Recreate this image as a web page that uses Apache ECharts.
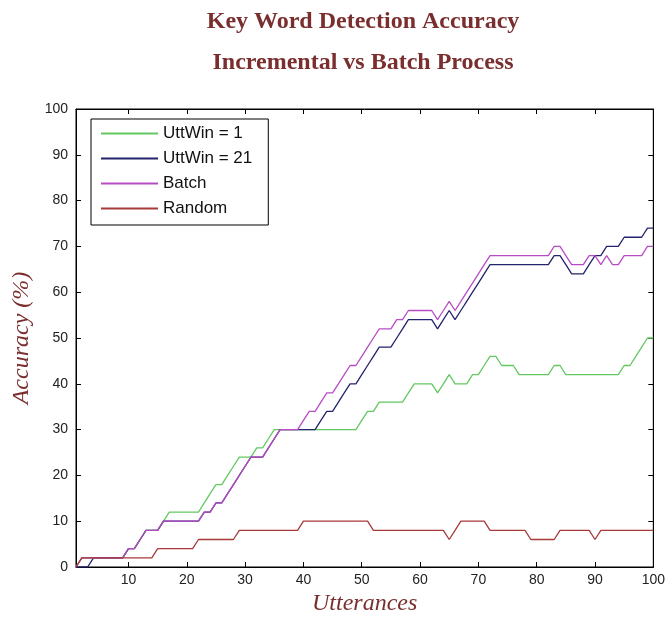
<!DOCTYPE html>
<html>
<head>
<meta charset="utf-8">
<title>Key Word Detection Accuracy</title>
<script src="https://cdn.jsdelivr.net/npm/echarts@6/dist/echarts.min.js"></script>
<style>
  html, body { margin: 0; padding: 0; background: #ffffff; }
  #chart { width: 668px; height: 625px; }
</style>
</head>
<body>
<div id="chart"></div>
<script>
// Utterance index (x) for every sample
const utterances = [
  1,2,3,4,5,6,7,8,9,10,11,12,13,14,15,16,17,18,19,20,
  21,22,23,24,25,26,27,28,29,30,31,32,33,34,35,36,37,38,39,40,
  41,42,43,44,45,46,47,48,49,50,51,52,53,54,55,56,57,58,59,60,
  61,62,63,64,65,66,67,68,69,70,71,72,73,74,75,76,77,78,79,80,
  81,82,83,84,85,86,87,88,89,90,91,92,93,94,95,96,97,98,99,100
];

// Accuracy (%) per utterance
const uttWin1 = [
  0,2,2,2,2,2,2,2,2,4, 4,6,8,8,8,10,12,12,12,12,
  12,12,14,16,18,18,20,22,24,24, 24,26,26,28,30,30,30,30,30,30,
  30,30,30,30,30,30,30,30,30,32, 34,34,36,36,36,36,36,38,40,40,
  40,40,38,40,42,40,40,40,42,42, 44,46,46,44,44,44,42,42,42,42,
  42,42,44,44,42,42,42,42,42,42, 42,42,42,42,44,44,46,48,50,50
];
const uttWin21 = [
  0,0,0,2,2,2,2,2,2,4, 4,6,8,8,8,10,10,10,10,10,
  10,10,12,12,14,14,16,18,20,22, 24,24,24,26,28,30,30,30,30,30,
  30,30,32,34,34,36,38,40,40,42, 44,46,48,48,48,50,52,54,54,54,
  54,54,52,54,56,54,56,58,60,62, 64,66,66,66,66,66,66,66,66,66,
  66,66,68,68,66,64,64,64,66,68, 68,70,70,70,72,72,72,72,74,74
];
const batch = [
  0,2,2,2,2,2,2,2,2,4, 4,6,8,8,8,10,10,10,10,10,
  10,10,12,12,14,14,16,18,20,22, 24,24,24,26,28,30,30,30,30,32,
  34,34,36,38,38,40,42,44,44,46, 48,50,52,52,52,54,54,56,56,56,
  56,56,54,56,58,56,58,60,62,64, 66,68,68,68,68,68,68,68,68,68,
  68,68,70,70,68,66,66,66,68,68, 66,68,66,66,68,68,68,68,70,70
];
const randomGuess = [
  0,2,2,2,2,2,2,2,2,2, 2,2,2,2,4,4,4,4,4,4,
  4,6,6,6,6,6,6,6,8,8, 8,8,8,8,8,8,8,8,8,10,
  10,10,10,10,10,10,10,10,10,10, 10,8,8,8,8,8,8,8,8,8,
  8,8,8,8,6,8,10,10,10,10, 10,8,8,8,8,8,8,8,6,6,
  6,6,6,8,8,8,8,8,8,6, 8,8,8,8,8,8,8,8,8,8
];

const seriesNames = ['UttWin = 1', 'UttWin = 21', 'Batch', 'Random'];
const seriesColors = ['#62c862', '#23236e', '#b84cc4', '#a83a3a'];
const xTickValues = [10, 20, 30, 40, 50, 60, 70, 80, 90, 100];

const seriesValues = [uttWin1, uttWin21, batch, randomGuess];

const maroon = '#7a2e2e';
const serif = '"Liberation Serif", "Times New Roman", serif';
const sans = '"Liberation Sans", Arial, sans-serif';

const chart = echarts.init(document.getElementById('chart'), null, { renderer: 'canvas' });

const option = {
  animation: false,
  backgroundColor: '#ffffff',
  title: [
    {
      text: 'Key Word Detection Accuracy',
      left: 363, top: 10, textAlign: 'center', padding: 0,
      textStyle: { fontFamily: serif, fontWeight: 'bold', fontSize: 24, color: maroon }
    },
    {
      text: 'Incremental vs Batch Process',
      left: 363, top: 51, textAlign: 'center', padding: 0,
      textStyle: { fontFamily: serif, fontWeight: 'bold', fontSize: 24, color: maroon }
    }
  ],
  legend: {
    data: seriesNames,
    orient: 'vertical',
    left: 91, top: 119,
    itemWidth: 57, itemHeight: 17, itemGap: 8,
    padding: [6, 16, 8, 9],
    backgroundColor: '#ffffff',
    borderColor: '#000000', borderWidth: 1, borderRadius: 0,
    // line samples only, no marker on them
    itemStyle: { opacity: 0 },
    textStyle: { fontFamily: sans, fontSize: 17, color: '#111111' }
  },
  grid: {
    left: 76, right: 11, top: 109, bottom: 58,
    show: true, borderColor: '#000000', borderWidth: 1, backgroundColor: '#ffffff'
  },
  xAxis: [
    {
      type: 'value', min: 1, max: 100, position: 'bottom',
      name: 'Utterances', nameLocation: 'middle', nameGap: 22,
      nameTextStyle: { fontFamily: serif, fontStyle: 'italic', fontSize: 24, color: maroon },
      axisLine: { show: true, onZero: false, lineStyle: { color: '#000', width: 1 } },
      axisTick: { show: true, inside: true, length: 5, customValues: xTickValues, lineStyle: { color: '#000' } },
      axisLabel: { customValues: xTickValues, margin: 6, fontFamily: sans, fontSize: 14, color: '#222' },
      splitLine: { show: false }
    },
    {
      type: 'value', min: 1, max: 100, position: 'top',
      axisLine: { show: true, onZero: false, lineStyle: { color: '#000', width: 1 } },
      axisTick: { show: true, inside: true, length: 5, customValues: xTickValues, lineStyle: { color: '#000' } },
      axisLabel: { show: false },
      splitLine: { show: false }
    }
  ],
  yAxis: [
    {
      type: 'value', min: 0, max: 100, interval: 10, position: 'left',
      name: 'Accuracy (%)', nameLocation: 'middle', nameGap: 41, nameRotate: 90,
      nameTextStyle: { fontFamily: serif, fontStyle: 'italic', fontSize: 24, color: maroon },
      axisLine: { show: true, onZero: false, lineStyle: { color: '#000', width: 1 } },
      axisTick: { show: true, inside: true, length: 5, lineStyle: { color: '#000' } },
      axisLabel: { margin: 8, fontFamily: sans, fontSize: 14, color: '#222' },
      splitLine: { show: false }
    },
    {
      type: 'value', min: 0, max: 100, interval: 10, position: 'right',
      axisLine: { show: true, onZero: false, lineStyle: { color: '#000', width: 1 } },
      axisTick: { show: true, inside: true, length: 5, lineStyle: { color: '#000' } },
      axisLabel: { show: false },
      splitLine: { show: false }
    }
  ],
  series: seriesNames.map((name, k) => ({
    name: name,
    type: 'line',
    xAxisIndex: 0,
    yAxisIndex: 0,
    symbol: 'none',
    clip: true,
    color: seriesColors[k],
    lineStyle: { color: seriesColors[k], width: 1.3 },
    data: utterances.map((u, i) => [u, seriesValues[k][i]])
  }))
};

chart.setOption(option);
</script>
</body>
</html>
